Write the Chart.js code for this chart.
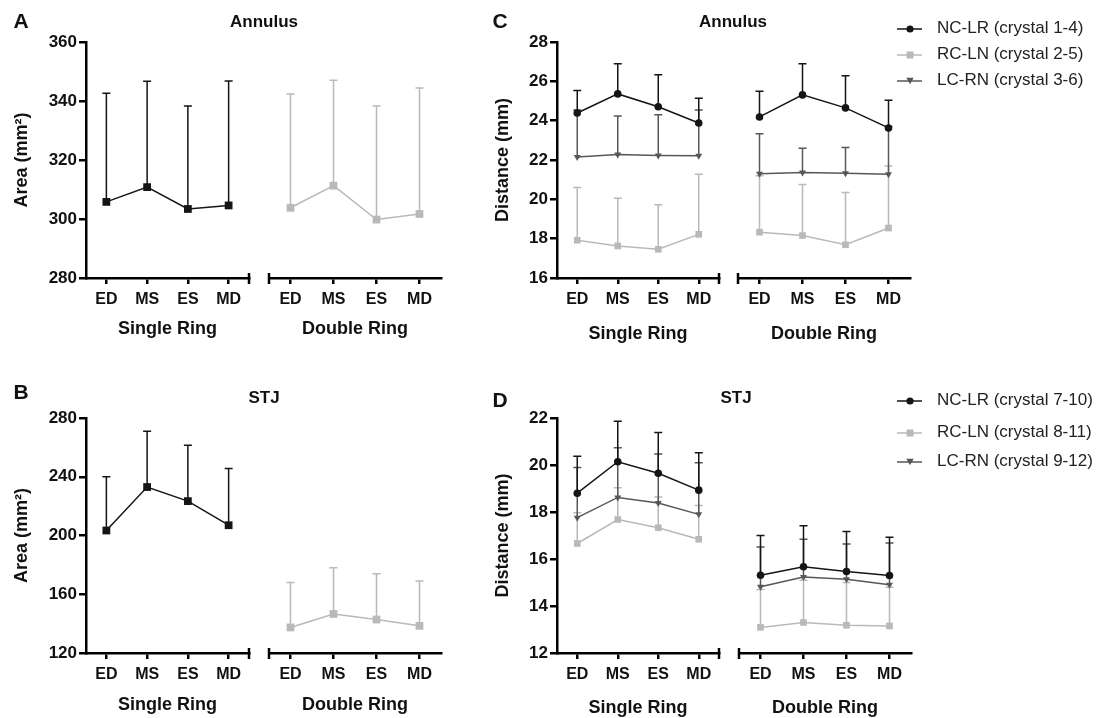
<!DOCTYPE html>
<html lang="en">
<head>
<meta charset="UTF-8">
<title>Annulus and STJ dimensions</title>
<script src="https://cdn.jsdelivr.net/npm/chart.js"></script>
<style>
  body { margin: 0; background: #fff; font-family: 'Liberation Sans', Arial, Helvetica, sans-serif; color: #111; }
  #fig { position: relative; width: 1100px; height: 718px; overflow: hidden; }
  #fig canvas { position: absolute; }
  .lbl { position: absolute; transform: translate(-50%, -50%); line-height: 1; white-space: nowrap; font-weight: bold; }
  .letter { font-size: 21px; }
  .ptitle { font-size: 17px; }
  .leg { position: absolute; font-size: 17px; line-height: 1; color: #222; white-space: nowrap; transform: translateY(-50%); }
  .legicon { position: absolute; }
</style>
</head>
<body>
<div id="fig"></div>
<script>
// categories
const stages = ['ED', 'MS', 'ES', 'MD'];
const groupTitles = ['Single Ring', 'Double Ring'];

// A - annulus area (mean and top of error bar)
const annAreaSingle = [305.8, 310.8, 303.4, 304.6];
const annAreaSingleTop = [342.6, 346.7, 338.3, 346.8];
const annAreaDouble = [303.8, 311.3, 299.8, 301.7];
const annAreaDoubleTop = [342.4, 347.0, 338.3, 344.4];

// B - STJ area
const stjAreaSingle = [203.4, 233.0, 223.4, 207.0];
const stjAreaSingleTop = [240.0, 271.0, 261.5, 245.6];
const stjAreaDouble = [137.4, 146.6, 142.8, 138.5];
const stjAreaDoubleTop = [168.0, 178.0, 174.0, 169.0];

// C - annulus distances
const annNcSingle = [24.39, 25.36, 24.71, 23.88];
const annNcSingleTop = [25.53, 26.89, 26.33, 25.14];
const annRcSingle = [17.92, 17.63, 17.46, 18.22];
const annRcSingleTop = [20.6, 20.05, 19.72, 21.28];
const annLcSingle = [22.15, 22.28, 22.23, 22.22];
const annLcSingleTop = [24.54, 24.24, 24.3, 24.54];
const annNcDouble = [24.19, 25.31, 24.65, 23.63];
const annNcDoubleTop = [25.5, 26.9, 26.29, 25.04];
const annRcDouble = [18.33, 18.16, 17.69, 18.54];
const annRcDoubleTop = [21.2, 20.75, 20.35, 21.7];
const annLcDouble = [21.3, 21.36, 21.32, 21.28];
const annLcDoubleTop = [23.34, 22.6, 22.64, 23.7];

// D - STJ distances
const stjNcSingle = [18.8, 20.14, 19.65, 18.93];
const stjNcSingleTop = [20.37, 21.86, 21.38, 20.52];
const stjRcSingle = [16.66, 17.68, 17.33, 16.84];
const stjRcSingleTop = [17.97, 19.03, 18.64, 18.28];
const stjLcSingle = [17.76, 18.62, 18.38, 17.9];
const stjLcSingleTop = [19.89, 20.73, 20.47, 20.1];
const stjNcDouble = [15.31, 15.67, 15.47, 15.3];
const stjNcDoubleTop = [17.0, 17.42, 17.17, 16.93];
const stjRcDouble = [13.09, 13.3, 13.18, 13.15];
const stjRcDoubleTop = [14.7, 15.1, 15.0, 14.8];
const stjLcDouble = [14.82, 15.23, 15.14, 14.9];
const stjLcDoubleTop = [16.51, 16.84, 16.64, 16.68];

const legendC = ['NC-LR (crystal 1-4)', 'RC-LN (crystal 2-5)', 'LC-RN (crystal 3-6)'];
const legendD = ['NC-LR (crystal 7-10)', 'RC-LN (crystal 8-11)', 'LC-RN (crystal 9-12)'];

const BLACK = '#151515', LIGHT = '#b9b9b9', DARK = '#575757';
const FONT = "'Liberation Sans', Arial, Helvetica, sans-serif";
Chart.defaults.font.family = FONT;
Chart.defaults.color = '#111';

const fig = document.getElementById('fig');

// upward error bars, drawn under the points
const errorBars = {
  id: 'errorBars',
  beforeDatasetsDraw(chart) {
    const {ctx, scales: {x, y}} = chart;
    ctx.save();
    ctx.lineWidth = 1.5;
    for (let d = chart.data.datasets.length - 1; d >= 0; d--) {
      const ds = chart.data.datasets[d];
      ctx.strokeStyle = ds.borderColor;
      ds.data.forEach((v, i) => {
        const px = x.getPixelForValue(i);
        const y0 = y.getPixelForValue(v), y1 = y.getPixelForValue(ds.err[i]);
        ctx.beginPath();
        ctx.moveTo(px, y0); ctx.lineTo(px, y1);
        ctx.moveTo(px - 4, y1); ctx.lineTo(px + 4, y1);
        ctx.stroke();
      });
    }
    ctx.restore();
  }
};

// end cap of the broken x axis
function axisCap(side) {
  return {
    id: 'axisCap',
    afterDraw(chart) {
      const {ctx, chartArea} = chart;
      const cx = side === 'left' ? chartArea.left : chartArea.right;
      ctx.save();
      ctx.strokeStyle = '#000';
      ctx.lineWidth = 2.5;
      ctx.beginPath();
      ctx.moveTo(cx, chartArea.bottom - 5);
      ctx.lineTo(cx, chartArea.bottom + 6);
      ctx.stroke();
      ctx.restore();
    }
  };
}

function segment(cfg) {
  const padT = 14, padB = 2, padS = 6;
  const left = cfg.yW ? cfg.area.l - cfg.yW : cfg.area.l - padS;
  const top = cfg.area.t - padT;
  const w = cfg.area.r + padS - left;
  const h = cfg.area.b + cfg.xH + padB - top;
  const cv = document.createElement('canvas');
  cv.width = w; cv.height = h;
  cv.style.left = left + 'px'; cv.style.top = top + 'px';
  cv.style.width = w + 'px'; cv.style.height = h + 'px';
  fig.appendChild(cv);

  const axisGrid = {drawOnChartArea: false, color: '#000', lineWidth: 2.5};
  new Chart(cv, {
    type: 'line',
    data: {
      labels: stages,
      datasets: cfg.sets.map(s => ({
        data: s.data, err: s.err,
        borderColor: s.color, backgroundColor: s.color,
        borderWidth: 1.5, pointStyle: s.style, pointRadius: s.r,
        pointRotation: s.rot || 0, pointBorderWidth: 0, tension: 0, clip: false
      }))
    },
    options: {
      responsive: false, animation: false, devicePixelRatio: 1,
      layout: {padding: {top: padT, bottom: padB, left: cfg.yW ? 0 : padS, right: padS}},
      plugins: {legend: {display: false}, tooltip: {enabled: false}},
      scales: {
        x: {
          offset: true,
          grid: {...axisGrid, offset: false, tickLength: 6},
          border: {color: '#000', width: 2.5},
          ticks: {color: '#111', font: {size: 16, weight: 'bold'}, padding: 6, maxRotation: 0, autoSkip: false},
          title: {display: true, text: cfg.xTitle, color: '#111', font: {size: 18, weight: 'bold'}, padding: 0},
          afterFit: a => { a.height = cfg.xH; }
        },
        y: {
          display: !!cfg.yW,
          min: cfg.yMin, max: cfg.yMax,
          grid: {...axisGrid, tickLength: 7},
          border: {color: '#000', width: 2.5},
          ticks: {stepSize: cfg.step, color: '#111', font: {size: 17, weight: 'bold'}, padding: 2},
          title: {display: true, text: cfg.yTitle, color: '#111', font: {size: 18, weight: 'bold'}, padding: {top: cfg.yTitlePad || 0, bottom: 0}},
          afterFit: a => { if (cfg.yW) a.width = cfg.yW; }
        }
      }
    },
    plugins: [errorBars, axisCap(cfg.cap)]
  });
}

function sq(data, err, color) { return {data, err, color, style: 'rect', r: 5.5}; }
function tri(data, err) { return {data, err, color: DARK, style: 'triangle', r: 4, rot: 180}; }
function dot(data, err) { return {data, err, color: BLACK, style: 'circle', r: 3.8}; }

// panel A
segment({area: {l: 86, r: 249, t: 42, b: 278}, yW: 86, yTitlePad: 11, yTitle: 'Area (mm²)', yMin: 280, yMax: 360, step: 20,
  xTitle: groupTitles[0], xH: 62, cap: 'right', sets: [sq(annAreaSingle, annAreaSingleTop, BLACK)]});
segment({area: {l: 269, r: 441, t: 42, b: 278}, yMin: 280, yMax: 360,
  xTitle: groupTitles[1], xH: 62, cap: 'left', sets: [sq(annAreaDouble, annAreaDoubleTop, LIGHT)]});

// panel B
segment({area: {l: 86, r: 249, t: 418, b: 653}, yW: 86, yTitlePad: 11, yTitle: 'Area (mm²)', yMin: 120, yMax: 280, step: 40,
  xTitle: groupTitles[0], xH: 63, cap: 'right', sets: [sq(stjAreaSingle, stjAreaSingleTop, BLACK)]});
segment({area: {l: 269, r: 441, t: 418, b: 653}, yMin: 120, yMax: 280,
  xTitle: groupTitles[1], xH: 63, cap: 'left', sets: [sq(stjAreaDouble, stjAreaDoubleTop, LIGHT)]});

// panel C
segment({area: {l: 557, r: 719, t: 42, b: 278}, yW: 77, yTitlePad: 12, yTitle: 'Distance (mm)', yMin: 16, yMax: 28, step: 2,
  xTitle: groupTitles[0], xH: 67, cap: 'right',
  sets: [dot(annNcSingle, annNcSingleTop), tri(annLcSingle, annLcSingleTop), {...sq(annRcSingle, annRcSingleTop, LIGHT), r: 4.7}]});
segment({area: {l: 738, r: 910, t: 42, b: 278}, yMin: 16, yMax: 28,
  xTitle: groupTitles[1], xH: 67, cap: 'left',
  sets: [dot(annNcDouble, annNcDoubleTop), tri(annLcDouble, annLcDoubleTop), {...sq(annRcDouble, annRcDoubleTop, LIGHT), r: 4.7}]});

// panel D
segment({area: {l: 557, r: 719, t: 418, b: 653}, yW: 77, yTitlePad: 12, yTitle: 'Distance (mm)', yMin: 12, yMax: 22, step: 2,
  xTitle: groupTitles[0], xH: 66, cap: 'right',
  sets: [dot(stjNcSingle, stjNcSingleTop), tri(stjLcSingle, stjLcSingleTop), {...sq(stjRcSingle, stjRcSingleTop, LIGHT), r: 4.7}]});
segment({area: {l: 739, r: 911, t: 418, b: 653}, yMin: 12, yMax: 22,
  xTitle: groupTitles[1], xH: 66, cap: 'left',
  sets: [dot(stjNcDouble, stjNcDoubleTop), tri(stjLcDouble, stjLcDoubleTop), {...sq(stjRcDouble, stjRcDoubleTop, LIGHT), r: 4.7}]});

// panel letters and titles
function label(text, x, y, cls) {
  const d = document.createElement('div');
  d.className = 'lbl ' + cls;
  d.textContent = text;
  d.style.left = x + 'px'; d.style.top = y + 'px';
  fig.appendChild(d);
}
label('A', 21, 20, 'letter'); label('B', 21, 391, 'letter');
label('C', 500, 20, 'letter'); label('D', 500, 399, 'letter');
label('Annulus', 264, 21, 'ptitle'); label('Annulus', 733, 21, 'ptitle');
label('STJ', 264, 397, 'ptitle'); label('STJ', 736, 397, 'ptitle');

// legends
const icons = [
  `<line x1="0" y1="6" x2="25" y2="6" stroke="${BLACK}" stroke-width="1.5"/><circle cx="13" cy="6" r="3.6" fill="${BLACK}"/>`,
  `<line x1="0" y1="6" x2="25" y2="6" stroke="${LIGHT}" stroke-width="1.5"/><rect x="9.5" y="2.5" width="7" height="7" fill="${LIGHT}"/>`,
  `<line x1="0" y1="6" x2="25" y2="6" stroke="${DARK}" stroke-width="1.5"/><polygon points="9.3,2.8 16.7,2.8 13,9.3" fill="${DARK}"/>`
];
function legend(texts, rows) {
  texts.forEach((t, i) => {
    const ic = document.createElement('div');
    ic.className = 'legicon';
    ic.style.left = '897px'; ic.style.top = (rows[i] - 6) + 'px';
    ic.innerHTML = `<svg width="26" height="12">${icons[i]}</svg>`;
    fig.appendChild(ic);
    const d = document.createElement('div');
    d.className = 'leg';
    d.textContent = t;
    d.style.left = '937px'; d.style.top = rows[i] + 'px';
    fig.appendChild(d);
  });
}
legend(legendC, [27, 52.5, 79]);
legend(legendD, [399, 430.5, 460]);
</script>
</body>
</html>
